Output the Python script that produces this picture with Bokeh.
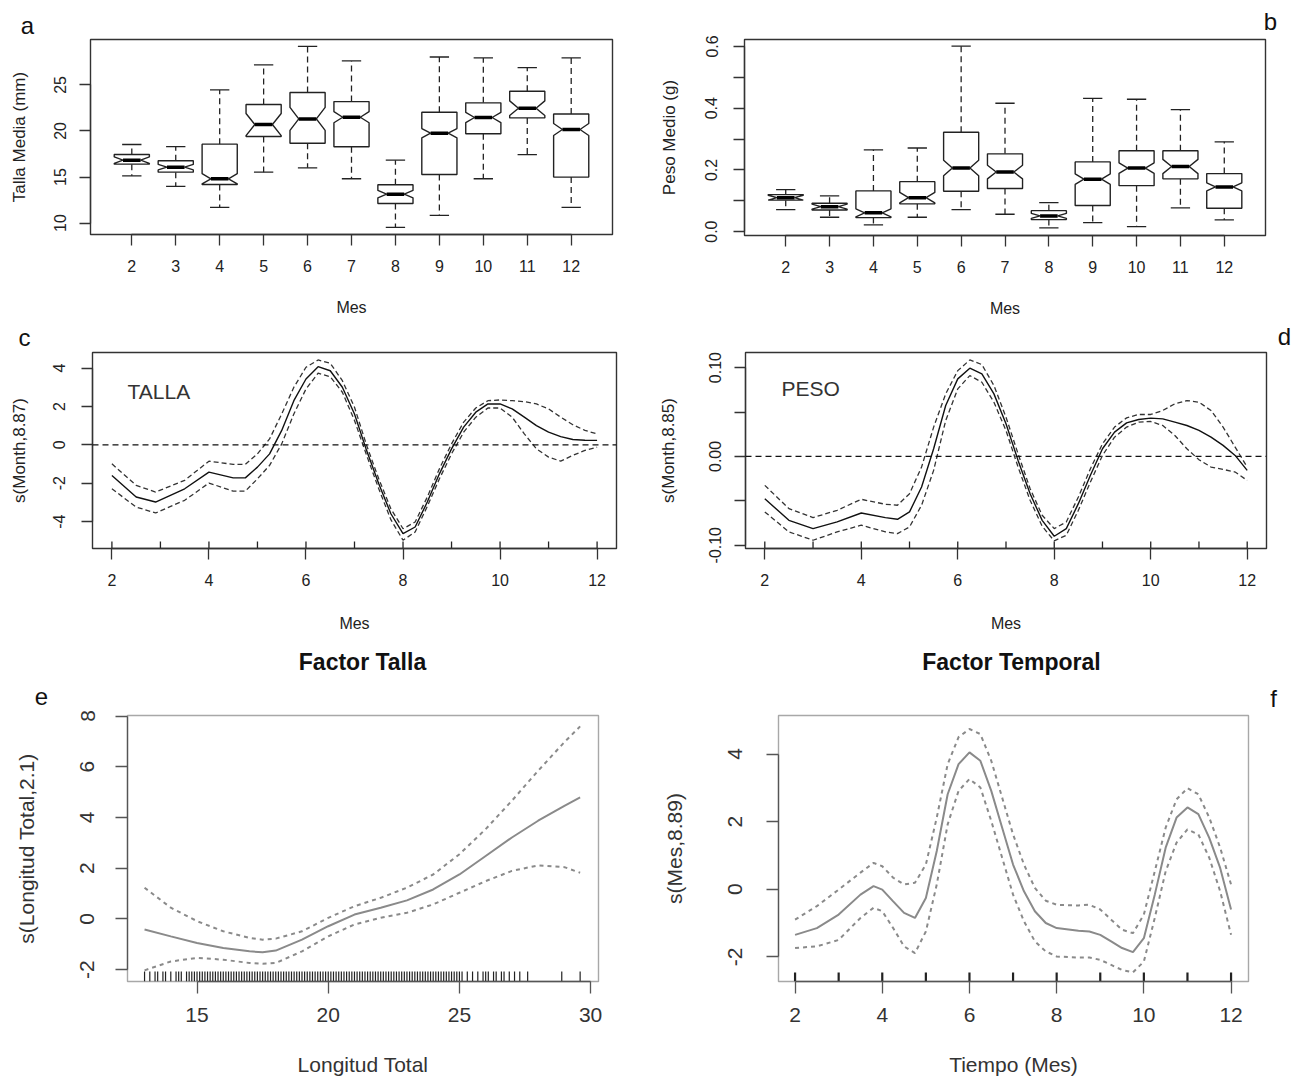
from bokeh.plotting import figure
from bokeh.models import Range1d, FixedTicker, PrintfTickFormatter, Label, Span
from bokeh.layouts import row, column
from bokeh.embed import file_html
from bokeh.resources import INLINE
from bokeh.core.properties import value

# ---------------- data ----------------
months = [2, 3, 4, 5, 6, 7, 8, 9, 10, 11, 12]

talla_whisk_lo = [15.13, 13.98, 11.70, 15.53, 16.00, 14.81, 9.53, 10.83, 14.81, 17.44, 11.70]
talla_q1 = [16.40, 15.53, 14.19, 19.40, 18.67, 18.28, 12.13, 15.28, 19.69, 21.42, 14.99]
talla_med = [16.83, 16.07, 14.81, 20.70, 21.31, 21.49, 13.14, 19.76, 21.46, 22.47, 20.16]
talla_q3 = [17.44, 16.76, 18.57, 22.87, 24.17, 23.19, 14.16, 22.03, 23.05, 24.31, 21.85]
talla_whisk_hi = [18.53, 18.31, 24.46, 27.17, 29.19, 27.60, 16.83, 28.03, 27.93, 26.88, 27.93]
talla_notch = [0.35, 0.30, 0.55, 1.20, 1.25, 0.60, 0.40, 0.50, 0.55, 0.80, 0.65]

peso_whisk_lo = [0.0715, 0.0466, 0.0217, 0.0466, 0.0715, 0.0563, 0.012, 0.029, 0.016, 0.077, 0.038]
peso_q1 = [0.102, 0.070, 0.0455, 0.090, 0.131, 0.140, 0.039, 0.0845, 0.149, 0.171, 0.076]
peso_med = [0.110, 0.081, 0.061, 0.110, 0.206, 0.193, 0.051, 0.170, 0.206, 0.211, 0.145]
peso_q3 = [0.120, 0.092, 0.132, 0.162, 0.322, 0.252, 0.068, 0.226, 0.262, 0.262, 0.188]
peso_whisk_hi = [0.136, 0.116, 0.265, 0.271, 0.601, 0.416, 0.094, 0.432, 0.429, 0.395, 0.291]
peso_notch = [0.008, 0.008, 0.013, 0.017, 0.025, 0.022, 0.008, 0.017, 0.017, 0.023, 0.013]

rug_months = [2, 3, 4, 5, 6, 7, 8, 9, 10, 11, 12]

c_x = [2, 2.5, 2.9, 3.5, 4, 4.5, 4.75, 5, 5.25, 5.5, 5.75, 6, 6.25, 6.5, 6.75, 7, 7.25, 7.5,
       7.75, 8, 8.25, 8.5, 8.75, 9, 9.25, 9.5, 9.75, 10, 10.25, 10.5, 10.75, 11, 11.25, 11.5, 11.75, 12]
c_fit = [-1.6, -2.72, -2.98, -2.29, -1.42, -1.72, -1.72, -1.16, -0.47, 0.75, 2.3, 3.43, 4.07, 3.86,
         3.0, 1.61, -0.3, -2.03, -3.59, -4.63, -4.28, -2.98, -1.51, -0.21, 0.92, 1.70, 2.13, 2.13,
         1.87, 1.44, 1.0, 0.66, 0.43, 0.28, 0.24, 0.23]
c_hi = [-0.99, -2.11, -2.46, -1.85, -0.85, -1.02, -1.02, -0.47, 0.31, 1.61, 3.0, 4.04, 4.42, 4.25,
        3.34, 1.96, -0.03, -1.77, -3.33, -4.37, -4.02, -2.72, -1.25, 0.05, 1.18, 1.92, 2.3, 2.34,
        2.3, 2.25, 2.13, 1.87, 1.44, 1.05, 0.75, 0.57]
c_lo = [-2.29, -3.24, -3.55, -2.89, -1.99, -2.41, -2.41, -1.77, -1.07, 0.05, 1.61, 2.91, 3.73, 3.55,
        2.74, 1.27, -0.55, -2.29, -3.9, -4.97, -4.54, -3.21, -1.77, -0.47, 0.66, 1.44, 1.92, 1.92,
        1.44, 0.57, -0.21, -0.64, -0.85, -0.55, -0.29, -0.12]

d_x = [2, 2.5, 3, 3.5, 4, 4.5, 4.75, 5, 5.25, 5.5, 5.75, 6, 6.25, 6.5, 6.75, 7, 7.25, 7.5,
       7.75, 8, 8.25, 8.5, 8.75, 9, 9.25, 9.5, 9.75, 10, 10.25, 10.5, 10.75, 11, 11.25, 11.5, 11.75, 12]
d_fit = [-0.0476, -0.072, -0.0813, -0.0738, -0.0637, -0.0689, -0.0708, -0.0625, -0.0345, 0.0086,
         0.0573, 0.0873, 0.0993, 0.0929, 0.0704, 0.0367, -0.0045, -0.042, -0.072, -0.0899, -0.0813,
         -0.0532, -0.0213, 0.0086, 0.0273, 0.0378, 0.0416, 0.0431, 0.0423, 0.0386, 0.0348, 0.0292,
         0.0217, 0.0124, 0.0011, -0.0157]
d_hi = [-0.0326, -0.0588, -0.0689, -0.0607, -0.0483, -0.0539, -0.055, -0.042, -0.012, 0.033,
        0.0704, 0.0966, 0.1086, 0.1034, 0.0798, 0.0442, 0.003, -0.0363, -0.0663, -0.0813, -0.0738,
        -0.0457, -0.0139, 0.0142, 0.033, 0.0434, 0.0472, 0.0472, 0.0517, 0.0592, 0.0629, 0.061,
        0.0517, 0.033, 0.0105, -0.012]
d_lo = [-0.0625, -0.085, -0.0944, -0.085, -0.0775, -0.085, -0.0869, -0.0794, -0.055, -0.0157,
        0.0404, 0.076, 0.091, 0.0835, 0.061, 0.0292, -0.012, -0.0494, -0.0787, -0.0951, -0.0888,
        -0.0607, -0.0288, 0.0011, 0.0217, 0.033, 0.0386, 0.0393, 0.0348, 0.0236, 0.0086, -0.0037,
        -0.012, -0.0146, -0.0176, -0.027]

e_x = [13, 14, 15, 16, 17, 17.5, 18, 19, 20, 21, 22, 23, 24, 25, 26, 27, 28, 29, 29.6]
e_fit = [-0.42, -0.69, -0.95, -1.15, -1.28, -1.32, -1.25, -0.82, -0.29, 0.17, 0.44, 0.73, 1.16,
         1.75, 2.48, 3.21, 3.87, 4.46, 4.79]
e_hi = [1.23, 0.44, -0.09, -0.49, -0.75, -0.82, -0.78, -0.49, 0.04, 0.5, 0.83, 1.23, 1.75, 2.55,
        3.54, 4.66, 5.84, 6.97, 7.59]
e_lo = [-2.03, -1.68, -1.54, -1.61, -1.74, -1.77, -1.74, -1.28, -0.69, -0.22, 0.04, 0.24, 0.57,
        1.03, 1.49, 1.89, 2.11, 2.04, 1.82]
e_rug = [13.0, 13.2, 13.4, 13.5, 13.7, 13.8, 14.0, 14.2, 14.3, 14.4, 14.6, 14.7, 14.8, 14.9,
         15.0, 15.1, 15.2, 15.3, 15.4, 15.5, 15.6, 15.7, 15.8, 15.9,
         16.0, 16.1, 16.2, 16.3, 16.4, 16.5, 16.6, 16.7, 16.8, 16.9,
         17.0, 17.1, 17.2, 17.3, 17.4, 17.5, 17.6, 17.7, 17.8, 17.9,
         18.0, 18.1, 18.2, 18.3, 18.4, 18.5, 18.6, 18.7, 18.8, 18.9,
         19.0, 19.1, 19.2, 19.3, 19.4, 19.5, 19.6, 19.7, 19.8, 19.9,
         20.0, 20.1, 20.2, 20.3, 20.4, 20.5, 20.6, 20.7, 20.8, 20.9,
         21.0, 21.1, 21.2, 21.3, 21.4, 21.5, 21.6, 21.7, 21.8, 21.9,
         22.0, 22.1, 22.2, 22.3, 22.4, 22.5, 22.6, 22.7, 22.8, 22.9,
         23.0, 23.1, 23.2, 23.3, 23.4, 23.5, 23.6, 23.7, 23.8, 23.9,
         24.0, 24.1, 24.2, 24.3, 24.4, 24.5, 24.6, 24.7, 24.8, 24.9, 25.0,
         25.1, 25.3, 25.5, 25.7, 25.9, 26.0, 26.1, 26.3, 26.4, 26.6, 26.7, 26.9, 27.1, 27.3,
         27.6, 28.9, 29.6]

f_x = [2, 2.5, 3, 3.5, 3.8, 4, 4.25, 4.5, 4.75, 5, 5.25, 5.5, 5.75, 6, 6.25, 6.5, 6.75, 7, 7.25,
       7.5, 7.75, 8, 8.5, 8.75, 9, 9.25, 9.5, 9.75, 10, 10.25, 10.5, 10.75, 11, 11.25, 11.5, 11.75, 12]
f_fit = [-1.35, -1.15, -0.75, -0.16, 0.09, -0.01, -0.36, -0.70, -0.85, -0.26, 1.13, 2.81, 3.70,
         4.05, 3.80, 2.91, 1.82, 0.73, -0.06, -0.65, -1.0, -1.15, -1.23, -1.25, -1.35, -1.54,
         -1.74, -1.86, -1.45, -0.16, 1.23, 2.12, 2.42, 2.22, 1.52, 0.63, -0.60]
f_hi = [-0.90, -0.50, -0.01, 0.49, 0.78, 0.68, 0.34, 0.14, 0.19, 0.73, 2.12, 3.70, 4.50, 4.74,
        4.59, 3.80, 2.71, 1.62, 0.73, 0.04, -0.34, -0.46, -0.48, -0.46, -0.60, -0.90, -1.20,
        -1.30, -0.75, 0.53, 1.82, 2.66, 2.99, 2.81, 2.12, 1.23, 0.14]
f_lo = [-1.74, -1.69, -1.50, -0.85, -0.55, -0.65, -1.15, -1.69, -1.89, -1.25, 0.14, 1.92, 2.91,
        3.26, 3.01, 2.02, 0.93, -0.16, -0.95, -1.54, -1.84, -1.99, -2.02, -2.02, -2.09, -2.24,
        -2.39, -2.46, -2.14, -0.85, 0.53, 1.38, 1.77, 1.62, 0.93, -0.06, -1.35]

# tick positions
box_x_ticks = [2, 3, 4, 5, 6, 7, 8, 9, 10, 11, 12]
talla_y_ticks = [10, 15, 20, 25]
peso_y_ticks = [0.0, 0.2, 0.4, 0.6]
peso_y_minor = [0.1, 0.3, 0.5]
month_ticks = [2, 4, 6, 8, 10, 12]
c_y_ticks = [-4, -2, 0, 2, 4]
d_y_ticks = [-0.10, 0.0, 0.10]
d_y_minor = [-0.05, 0.05]
e_x_ticks = [15, 20, 25, 30]
e_y_ticks = [-2, 0, 2, 4, 6, 8]
f_y_ticks = [-2, 0, 2, 4]

FONT = "Liberation Sans"
DARK = "#222222"
WL, WR = 649, 652


def no_align(p):
    try:
        p.frame_align = False
    except Exception:
        pass


def make_fig(w, h, xr, yr, bl, br, bt, bb, outline="#333333"):
    p = figure(width=w, height=h, x_range=Range1d(*xr), y_range=Range1d(*yr),
               output_backend="svg", toolbar_location=None, title_location=None,
               min_border_left=bl, min_border_right=br, min_border_top=bt, min_border_bottom=bb)
    no_align(p)
    p.xgrid.visible = False
    p.ygrid.visible = False
    p.outline_line_color = outline
    p.outline_line_width = 1.4
    p.outline_line_alpha = 1.0
    p.background_fill_color = "white"
    p.border_fill_color = "white"
    return p


def text_band(w, h, items):
    """A strip without axes (1 unit = 1 px, y measured downward) holding free texts."""
    p = figure(width=w, height=h, x_range=Range1d(0, w), y_range=Range1d(h, 0),
               output_backend="svg", toolbar_location=None, title_location=None,
               x_axis_location=None, y_axis_location=None, min_border=0,
               min_border_left=0, min_border_right=0, min_border_top=0, min_border_bottom=0)
    no_align(p)
    p.xgrid.visible = False
    p.ygrid.visible = False
    p.outline_line_color = None
    p.background_fill_color = "white"
    p.border_fill_color = "white"
    for (txt, x, y, size, style) in items:
        p.text(x=[x], y=[y], text=[txt], text_font=value(FONT), text_font_size=size,
               text_font_style=style, text_color="#111111", text_align="center",
               text_baseline="middle")
    return p


def style_axis(ax, ticks, bounds, label, size, lsize, tick_out, standoff, lstandoff,
               minor=None, fmt=None, vertical=False, color=DARK, line_color="#333333"):
    ax.ticker = FixedTicker(ticks=ticks, minor_ticks=minor or [])
    ax.bounds = bounds
    ax.axis_label = label
    ax.axis_label_text_font = FONT
    ax.axis_label_text_font_size = lsize
    ax.axis_label_text_font_style = "normal"
    ax.axis_label_text_color = color
    ax.axis_label_standoff = lstandoff
    ax.major_label_text_font = FONT
    ax.major_label_text_font_size = size
    ax.major_label_text_color = color
    ax.major_label_standoff = standoff
    ax.major_tick_out = tick_out
    ax.major_tick_in = 0
    ax.major_tick_line_color = line_color
    ax.major_tick_line_width = 1.3
    ax.axis_line_color = line_color
    ax.axis_line_width = 1.3
    if minor:
        ax.minor_tick_out = tick_out
        ax.minor_tick_in = 0
        ax.minor_tick_line_color = line_color
        ax.minor_tick_line_width = 1.3
    else:
        ax.minor_tick_line_color = None
    if fmt:
        ax.formatter = PrintfTickFormatter(format=fmt)
    if vertical:
        ax.major_label_orientation = "vertical"


def boxplot(p, xs, wlo, q1, med, q3, whi, notch):
    hw = 0.4
    cap = 0.22
    pxs, pys = [], []
    for c, a, m, b, n in zip(xs, q1, med, q3, notch):
        pxs.append([c - hw, c - hw, c - hw / 2, c - hw, c - hw, c + hw, c + hw, c + hw / 2, c + hw, c + hw])
        pys.append([a, m - n, m, m + n, b, b, m + n, m, m - n, a])
    p.segment(x0=xs, y0=q3, x1=xs, y1=whi, line_color=DARK, line_width=1.3, line_dash="6 4")
    p.segment(x0=xs, y0=q1, x1=xs, y1=wlo, line_color=DARK, line_width=1.3, line_dash="6 4")
    p.segment(x0=[c - cap for c in xs], y0=whi, x1=[c + cap for c in xs], y1=whi,
              line_color=DARK, line_width=1.3)
    p.segment(x0=[c - cap for c in xs], y0=wlo, x1=[c + cap for c in xs], y1=wlo,
              line_color=DARK, line_width=1.3)
    p.patches(pxs, pys, fill_color="white", line_color=DARK, line_width=1.4)
    p.segment(x0=[c - hw / 2 for c in xs], y0=med, x1=[c + hw / 2 for c in xs], y1=med,
              line_color="#000000", line_width=3.5)


def rug(p, xs, yr, frac, color, width):
    y0 = yr[0]
    y1 = yr[0] + frac * (yr[1] - yr[0])
    p.segment(x0=xs, y0=[y0] * len(xs), x1=xs, y1=[y1] * len(xs), line_color=color, line_width=width)


LS = "24px"

# ---------------- row 1 ----------------
band_a = text_band(WL, 38, [("a", 27, 24.6, LS, "normal")])
band_b = text_band(WR, 34, [("b", 621, 20.6, LS, "normal")])

ya = (8.76, 29.93)
pa = make_fig(WL, 283, (1.06, 12.94), ya, 90, 37, 1, 87)
boxplot(pa, months, talla_whisk_lo, talla_q1, talla_med, talla_q3, talla_whisk_hi, talla_notch)
style_axis(pa.xaxis[0], box_x_ticks, (2, 12), "Mes", "16px", "16px", 11, 14, 24)
style_axis(pa.yaxis[0], talla_y_ticks, (10, 25), "Talla Media (mm)", "16px", "17px", 11, 13, 23,
           vertical=True)

yb = (-0.0125, 0.6225)
pb = make_fig(WR, 287, (1.06, 12.94), yb, 95, 36, 5, 86)
boxplot(pb, months, peso_whisk_lo, peso_q1, peso_med, peso_q3, peso_whisk_hi, peso_notch)
style_axis(pb.xaxis[0], box_x_ticks, (2, 12), "Mes", "16px", "16px", 11, 14, 24)
style_axis(pb.yaxis[0], peso_y_ticks, (0, 0.6), "Peso Medio (g)", "16px", "17px", 11, 16, 24,
           minor=peso_y_minor, fmt="%.1f", vertical=True)

# ---------------- row 2 ----------------
band_c = text_band(WL, 29, [("c", 24, 15.6, LS, "normal")])
band_d = text_band(WR, 28, [("d", 635, 14.6, LS, "normal")])

yc = (-5.40, 4.81)
pc = make_fig(WL, 290, (1.6, 12.4), yc, 92, 33, 2, 92)
pc.add_layout(Span(location=0, dimension="width", line_color="#111111", line_width=1.4, line_dash="6 4"))
pc.line(c_x, c_hi, line_color="#333333", line_width=1.3, line_dash="5 3")
pc.line(c_x, c_lo, line_color="#333333", line_width=1.3, line_dash="5 3")
pc.line(c_x, c_fit, line_color="#111111", line_width=1.4)
rug(pc, rug_months, yc, 0.036, "#222222", 1.3)
style_axis(pc.xaxis[0], month_ticks, (2, 12), "Mes", "16px", "16px", 11, 14, 26)
style_axis(pc.yaxis[0], c_y_ticks, (-4, 4), "s(Month,8.87)", "16px", "17px", 11, 16, 22,
           fmt="%d", vertical=True)
pc.add_layout(Label(x=35, y=157, x_units="screen", y_units="screen", text="TALLA",
                    text_font=FONT, text_font_size="21px", text_color="#333333",
                    text_baseline="alphabetic"))

yd = (-0.1037, 0.117)
pd_ = make_fig(WR, 291, (1.6, 12.4), yd, 96, 35, 3, 92)
pd_.add_layout(Span(location=0, dimension="width", line_color="#111111", line_width=1.4, line_dash="6 4"))
pd_.line(d_x, d_hi, line_color="#333333", line_width=1.3, line_dash="5 3")
pd_.line(d_x, d_lo, line_color="#333333", line_width=1.3, line_dash="5 3")
pd_.line(d_x, d_fit, line_color="#111111", line_width=1.4)
rug(pd_, rug_months, yd, 0.036, "#222222", 1.3)
style_axis(pd_.xaxis[0], month_ticks, (2, 12), "Mes", "16px", "16px", 11, 14, 26)
style_axis(pd_.yaxis[0], d_y_ticks, (-0.1, 0.1), "s(Month,8.85)", "16px", "17px", 11, 13, 29,
           minor=d_y_minor, fmt="%.2f", vertical=True)
pd_.add_layout(Label(x=36, y=160, x_units="screen", y_units="screen", text="PESO",
                     text_font=FONT, text_font_size="21px", text_color="#333333",
                     text_baseline="alphabetic"))

# ---------------- row 3 ----------------
band_e = text_band(WL, 69, [("Factor Talla", 362, 21, "23px", "bold"),
                            ("e", 41, 55.6, LS, "normal")])
band_f = text_band(WR, 71, [("Factor Temporal", 362, 21, "23px", "bold"),
                            ("f", 624, 57.6, LS, "normal")])

GRAY = "#8a8a8a"
ye = (-2.47, 8.02)
pe = make_fig(WL, 372, (12.35, 30.3), ye, 127, 51, 6, 100, outline="#a8a8a8")
pe.line(e_x, e_hi, line_color=GRAY, line_width=2, line_dash="4 4")
pe.line(e_x, e_lo, line_color=GRAY, line_width=2, line_dash="4 4")
pe.line(e_x, e_fit, line_color=GRAY, line_width=2)
rug(pe, e_rug, ye, 0.038, "#222222", 1.2)
style_axis(pe.xaxis[0], e_x_ticks, (15, 30), "Longitud Total", "21px", "21px", 12, 14, 28,
           color="#333333", line_color="#555555")
style_axis(pe.yaxis[0], e_y_ticks, (-2, 8), "s(Longitud Total,2.1)", "21px", "21px", 12, 21, 40,
           fmt="%d", vertical=True, color="#333333", line_color="#555555")

yf = (-2.73, 5.14)
pf = make_fig(WR, 370, (1.62, 12.40), yf, 129, 53, 4, 100, outline="#a8a8a8")
pf.line(f_x, f_hi, line_color=GRAY, line_width=2, line_dash="4 4")
pf.line(f_x, f_lo, line_color=GRAY, line_width=2, line_dash="4 4")
pf.line(f_x, f_fit, line_color=GRAY, line_width=2)
rug(pf, rug_months, yf, 0.034, "#222222", 2.2)
style_axis(pf.xaxis[0], month_ticks, (2, 12), "Tiempo (Mes)", "21px", "21px", 12, 14, 28,
           color="#333333", line_color="#555555")
style_axis(pf.yaxis[0], f_y_ticks, (-2, 4), "s(Mes,8.89)", "21px", "21px", 12, 24, 40,
           fmt="%d", vertical=True, color="#333333", line_color="#555555")

layout = column(
    row(column(band_a, pa), column(band_b, pb)),
    row(column(band_c, pc), column(band_d, pd_)),
    row(column(band_e, pe), column(band_f, pf)),
)
open("out.html", "w").write(file_html(layout, INLINE))
